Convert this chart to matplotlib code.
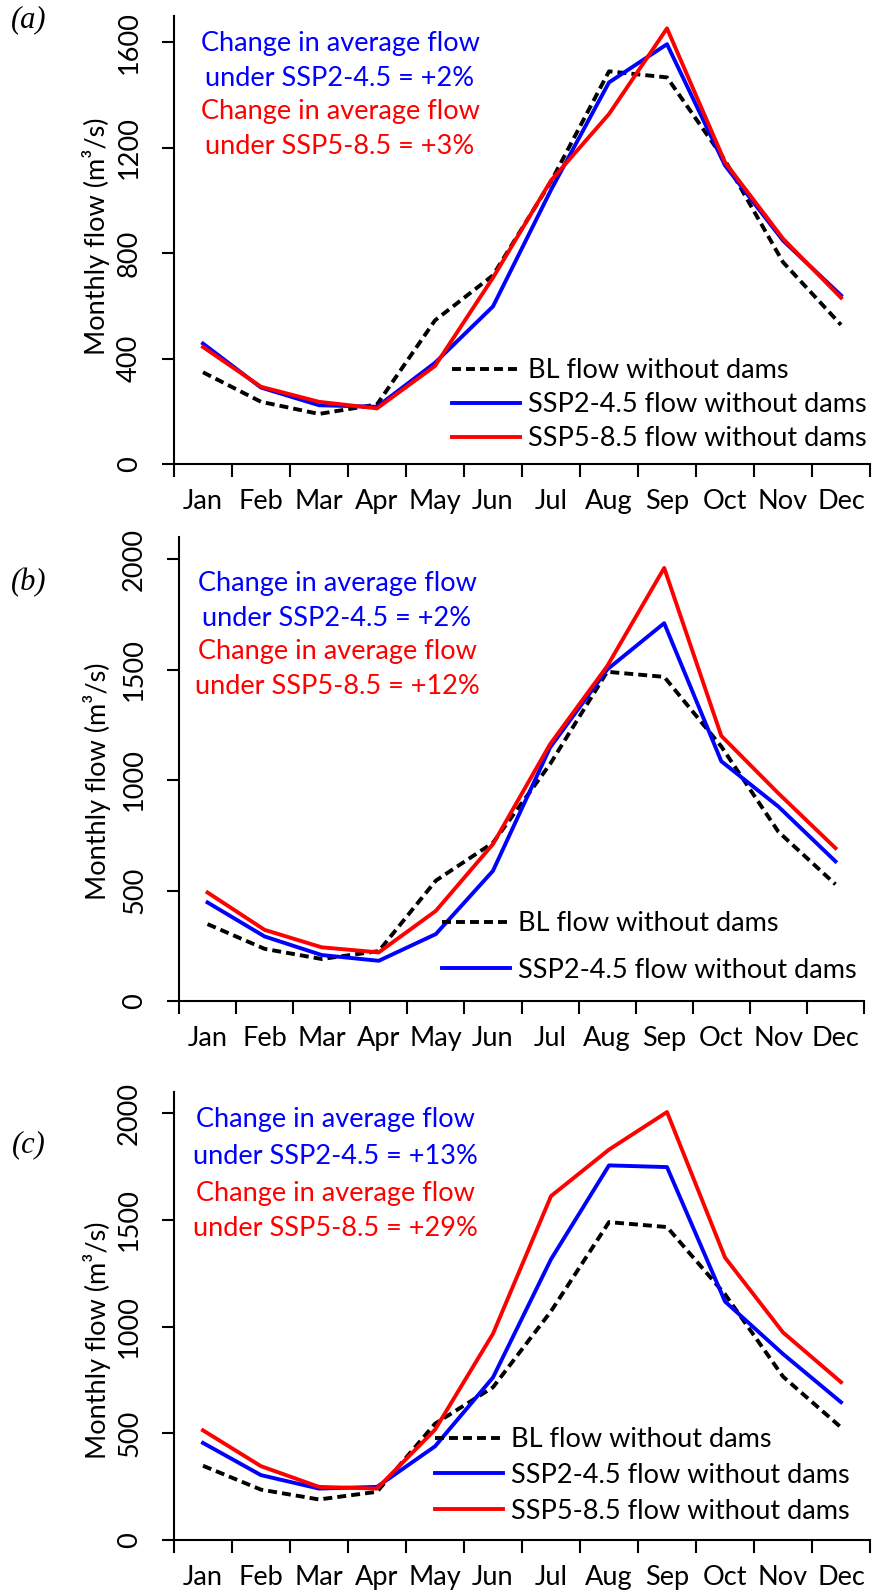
import matplotlib
matplotlib.use("Agg")
import matplotlib.pyplot as plt
from matplotlib.lines import Line2D
import numpy as np

plt.rcParams['font.family'] = ['Lato', 'DejaVu Sans']

months = ["Jan", "Feb", "Mar", "Apr", "May", "Jun",
          "Jul", "Aug", "Sep", "Oct", "Nov", "Dec"]

# Baseline monthly flow without dams (m3/s)
bl_flow = [348, 236, 190, 226, 545, 716, 1072, 1490, 1467, 1152, 766, 528]

# (a)
ssp245_a = [457, 290, 223, 217, 384, 598, 1040, 1448, 1593, 1133, 848, 640]
ssp585_a = [444, 293, 236, 211, 372, 707, 1076, 1328, 1653, 1145, 855, 631]
# (b)
ssp245_b = [446, 292, 208, 182, 303, 589, 1147, 1500, 1710, 1085, 880, 632]
ssp585_b = [491, 322, 243, 220, 408, 710, 1162, 1515, 1960, 1200, 940, 692]
# (c)
ssp245_c = [455, 304, 241, 249, 439, 762, 1316, 1756, 1748, 1118, 872, 646]
ssp585_c = [514, 346, 249, 241, 517, 967, 1612, 1830, 2006, 1324, 973, 740]

change_245 = ["+2%", "+2%", "+13%"]
change_585 = ["+3%", "+12%", "+29%"]
panel_tags = ["(a)", "(b)", "(c)"]

W, H = 872, 1596
fig = plt.figure(figsize=(W / 100, H / 100), dpi=100)


def fx(x):
    return x / W


def fy(y):
    return 1 - y / H


BLUE = "#0000FF"
RED = "#FF0000"
LW = 2.8
FS = 19.5
DASH = (0, (2.3, 1.3))

panels = [
    # left, right, top, bottom (pixels), ymax, yticks
    dict(box=(174, 870, 16, 464), ymax=1700, yt=[0, 400, 800, 1200, 1600],
         s245=ssp245_a, s585=ssp585_a, leg585=True,
         leg=(452, 358, 0.34), note=(340, [44, 78, 112, 146]),
         ylab=(96, 236), tag=(29, 20)),
    dict(box=(179, 864, 537, 1001), ymax=2100, yt=[0, 500, 1000, 1500, 2000],
         s245=ssp245_b, s585=ssp585_b, leg585=False,
         leg=(442, 911, 0.80), note=(337, [583, 618, 652, 686]),
         ylab=(97, 781), tag=(29, 583)),
    dict(box=(174, 870, 1092, 1540), ymax=2100, yt=[0, 500, 1000, 1500, 2000],
         s245=ssp245_c, s585=ssp585_c, leg585=True,
         leg=(435, 1427, 0.40), note=(335, [1119, 1156, 1193, 1228]),
         ylab=(97, 1340), tag=(29, 1145)),
]

x = np.arange(12) + 0.5

for i, p in enumerate(panels):
    l, r, t, b = p["box"]
    ax = fig.add_axes([fx(l), fy(b), (r - l) / W, (b - t) / H])
    ax.plot(x, bl_flow, color="black", lw=LW, ls=DASH,
            label="BL flow without dams")
    ax.plot(x, p["s245"], color=BLUE, lw=LW, label="SSP2-4.5 flow without dams")
    ax.plot(x, p["s585"], color=RED, lw=LW, label="SSP5-8.5 flow without dams")

    ax.set_xlim(0, 12)
    ax.set_ylim(0, p["ymax"])
    ax.set_xticks(np.arange(13))
    ax.set_xticklabels([])
    ax.set_xticks(x, minor=True)
    ax.set_xticklabels(months, minor=True, fontsize=FS)
    ax.tick_params(axis="x", which="minor", length=0, pad=18)
    ax.tick_params(axis="x", which="major", length=9, width=1.5, direction="out")
    ax.set_yticks(p["yt"])
    ax.set_yticklabels([str(v) for v in p["yt"]], rotation=90, va="center",
                       fontsize=FS)
    ax.tick_params(axis="y", length=9, width=1.5, direction="out", pad=14)
    for s in ("top", "right"):
        ax.spines[s].set_visible(False)
    for s in ("left", "bottom"):
        ax.spines[s].set_linewidth(1.5)

    handles = [
        Line2D([], [], color="black", lw=LW, ls=DASH),
        Line2D([], [], color=BLUE, lw=LW),
    ]
    labels = ["BL flow without dams", "SSP2-4.5 flow without dams"]
    if p["leg585"]:
        handles.append(Line2D([], [], color=RED, lw=LW))
        labels.append("SSP5-8.5 flow without dams")
    lx, ly, lsp = p["leg"]
    fig.legend(handles, labels, loc="upper left",
               bbox_to_anchor=(fx(lx), fy(ly)), frameon=False,
               fontsize=FS, borderpad=0, borderaxespad=0,
               handlelength=68 / (FS * 100 / 72), handletextpad=0.3,
               labelspacing=lsp)

    nx, ny = p["note"]
    lines = [("Change in average flow", BLUE),
             (f"under SSP2-4.5 = {change_245[i]}", BLUE),
             ("Change in average flow", RED),
             (f"under SSP5-8.5 = {change_585[i]}", RED)]
    for (txt, col), yy in zip(lines, ny):
        fig.text(fx(nx), fy(yy), txt, color=col, fontsize=FS,
                 ha="center", va="center")

    yx, yy = p["ylab"]
    fig.text(fx(yx), fy(yy), "Monthly flow (m³/s)", rotation=90,
             fontsize=FS, ha="center", va="center")

    tx, ty = p["tag"]
    fig.text(fx(tx), fy(ty), panel_tags[i], fontsize=22, style="italic",
             family="Liberation Serif", ha="center", va="center")

fig.savefig("out.png", dpi=100, facecolor="white")
